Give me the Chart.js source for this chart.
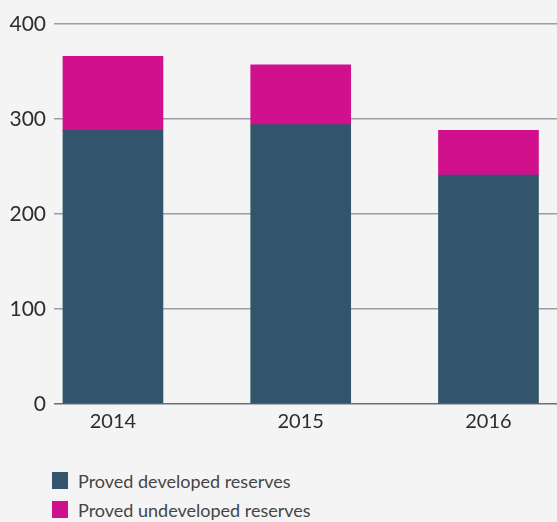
<!DOCTYPE html>
<html>
<head>
<meta charset="utf-8">
<script src="https://cdn.jsdelivr.net/npm/chart.js@4"></script>
<style>
  html, body { margin: 0; padding: 0; background: #f4f4f4; }
  #wrap { position: relative; width: 557px; height: 522px; overflow: hidden; }
  #box { position: absolute; left: 0; top: 0; width: 557px; height: 434px; }
  #legend { position: absolute; left: 52px; top: 466px; font-family: Lato, sans-serif; font-size: 18px; color: #454545; }
  #legend div { display: flex; align-items: center; height: 29px; }
  #legend span.sw { display: inline-block; width: 16px; height: 17px; margin-right: 10px; }
</style>
</head>
<body>
<div id="wrap">
  <div id="box"><canvas id="chart"></canvas></div>
  <div id="legend"></div>
</div>
<script>
(function () {
    const years = ['2014', '2015', '2016'];
    const developed = [288, 294, 241];
    const undeveloped = [78, 63, 47];
    const yTicks = [0, 100, 200, 300, 400];

    const seriesNames = ['Proved developed reserves', 'Proved undeveloped reserves'];
    const seriesColors = ['#32556c', '#d0108c'];

    const toPoints = vals => vals.map((v, i) => ({ x: i, y: v }));

    const chart = new Chart(document.getElementById('chart'), {
        type: 'bar',
        data: {
            datasets: [
                { label: seriesNames[0], data: toPoints(developed), backgroundColor: seriesColors[0], barThickness: 100, grouped: false },
                { label: seriesNames[1], data: toPoints(undeveloped), backgroundColor: seriesColors[1], barThickness: 100, grouped: false }
            ]
        },
        options: {
            responsive: true,
            maintainAspectRatio: false,
            animation: false,
            layout: { padding: { top: 24, left: 0, right: 0, bottom: 0 } },
            scales: {
                x: {
                    type: 'linear',
                    bounds: 'data',
                    offset: false,
                    afterDataLimits: s => { s.min = -0.314; s.max = 2.365; },
                    afterBuildTicks: s => { s.ticks = years.map((_, i) => ({ value: i })); },
                    afterFit: s => { s.height = 30; },
                    grid: { display: false, drawTicks: false, offset: false },
                    border: { display: false },
                    ticks: {
                        color: '#2d2d2d',
                        font: { family: 'Lato', size: 20 },
                        padding: 6,
                        maxRotation: 0,
                        callback: v => years[v]
                    }
                },
                y: {
                    stacked: true,
                    min: 0,
                    max: 400,
                    afterBuildTicks: s => { s.ticks = yTicks.map(v => ({ value: v })); },
                    afterFit: s => { s.width = 54; },
                    border: { display: false },
                    grid: {
                        drawTicks: false,
                        lineWidth: 1.5,
                        color: c => c.tick && c.tick.value === 0 ? '#6e6e78' : '#9c9ca6'
                    },
                    ticks: {
                        color: '#2d2d2d',
                        font: { family: 'Lato', size: 21 },
                        padding: 8
                    }
                }
            },
            plugins: {
                legend: { display: false },
                tooltip: { enabled: false }
            }
        }
    });

    const legend = document.getElementById('legend');
    chart.data.datasets.forEach(ds => {
        const row = document.createElement('div');
        const sw = document.createElement('span');
        sw.className = 'sw';
        sw.style.background = ds.backgroundColor;
        row.appendChild(sw);
        row.appendChild(document.createTextNode(ds.label));
        legend.appendChild(row);
    });
})();
</script>
</body>
</html>
